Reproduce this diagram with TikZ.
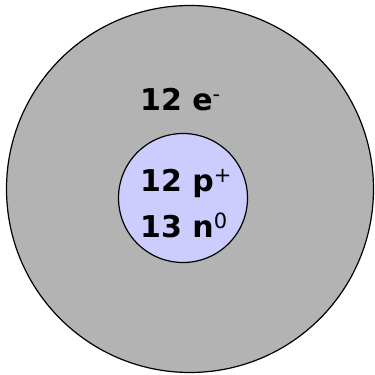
\documentclass[tikz,border=0pt]{standalone}
\usepackage{fontspec}
\setmainfont{DejaVu Sans}
\definecolor{shellgray}{HTML}{B3B3B3}
\definecolor{nucblue}{HTML}{CCCCFF}
\newcommand{\chg}[1]{\textsuperscript{\mdseries #1}}
\begin{document}
\begin{tikzpicture}[x=1pt,y=1pt,
  ring/.style={draw=black, circle, line width=1.2pt, inner sep=0pt},
  lab/.style={anchor=base west, inner sep=0pt, font=\fontsize{30}{36}\selectfont\bfseries}]
\useasboundingbox (0,0) rectangle (375,375);
\node[ring, fill=shellgray, minimum size=367] (shell) at (190,186) {};
\node[ring, fill=nucblue, minimum size=129] (nucleus) at (183,177) {};
\node[lab] (electrons) at (140,264) {12 e\chg{-}};
\node[lab] (protons) at (140,183) {12 p\chg{+}};
\node[lab] (neutrons) at (140,137) {13 n\chg{0}};
\end{tikzpicture}
\end{document}
